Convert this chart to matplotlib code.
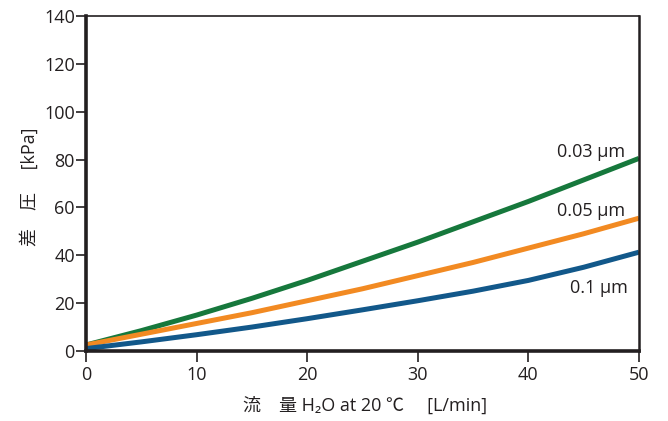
import matplotlib.pyplot as plt

plt.rcParams['font.family'] = ['Open Sans', 'Noto Sans CJK JP', 'DejaVu Sans']

# Données
debit = [0, 5, 10, 15, 20, 25, 30, 35, 40, 45, 50]
dp_003 = [2.5, 8.5, 15, 22, 29.5, 37.5, 45.5, 54, 62.5, 71.5, 80.5]
dp_005 = [2.5, 7, 11.5, 16, 21, 26, 31.5, 37, 43, 49, 55.5]
dp_01 = [1, 3.8, 6.8, 10, 13.5, 17.2, 21, 25, 29.5, 35, 41.3]

noms = ['0.03 µm', '0.05 µm', '0.1 µm']
couleurs = ['#16783c', '#f28a22', '#12588a']
texte = '#231f20'

fig = plt.figure(figsize=(6.68, 4.21), dpi=100)
ax = fig.add_axes([0.1287, 0.1663, 0.8279, 0.7957])

for y, c in zip([dp_003, dp_005, dp_01], couleurs):
    ax.plot(debit, y, color=c, linewidth=3.6, solid_capstyle='butt')

ax.text(48.7, 83, noms[0], ha='right', va='center', fontsize=13, color=texte)
ax.text(48.7, 58.5, noms[1], ha='right', va='center', fontsize=13, color=texte)
ax.text(49.0, 26.3, noms[2], ha='right', va='center', fontsize=13, color=texte)

ax.set_xlim(0, 50)
ax.set_ylim(0, 140)
ax.set_xticks(range(0, 51, 10))
ax.set_yticks(range(0, 141, 20))
ax.tick_params(axis='both', labelsize=13, colors=texte, direction='out', width=1.2)
ax.tick_params(axis='y', length=7, pad=1)
ax.tick_params(axis='x', length=8, pad=3)

ax.spines['left'].set_linewidth(2.6)
ax.spines['bottom'].set_linewidth(2.6)
ax.spines['right'].set_linewidth(1.8)
ax.spines['top'].set_linewidth(1.2)
for s in ax.spines.values():
    s.set_color(texte)

ax.set_xlabel('流\u3000量 H₂O at 20 ℃     [L/min]', fontsize=13, color=texte)
ax.set_ylabel('差\u3000圧\u3000 [kPa]', fontsize=13, color=texte)
ax.xaxis.set_label_coords(0.505, -0.135)
ax.yaxis.set_label_coords(-0.085, 0.49)

fig.savefig('out.png', dpi=100)
